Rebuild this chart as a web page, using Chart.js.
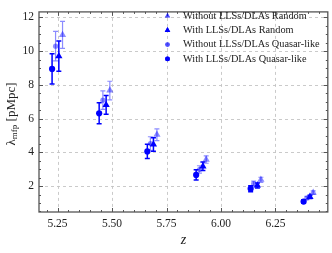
<!DOCTYPE html>
<html><head><meta charset="utf-8">
<script src="https://cdn.jsdelivr.net/npm/chart.js@4"></script>
<style>html,body{margin:0;padding:0;background:#fff;overflow:hidden}</style>
</head><body>
<canvas id="c" width="332" height="253"></canvas>
<script>
// ---- data ----
const seriesLabels = ["Without LLSs/DLAs Random","With LLSs/DLAs Random","Without LLSs/DLAs Quasar-like","With LLSs/DLAs Quasar-like"];

const zWithoutRandom = [5.273,5.490,5.706,5.932,6.183,6.423];
const lmfpWithoutRandom = [10.97,7.67,5.05,3.58,2.38,1.62];
const errWithoutRandom = [0.80,0.55,0.35,0.22,0.15,0.10];

const zWithRandom = [5.256,5.473,5.690,5.917,6.167,6.408];
const lmfpWithRandom = [9.71,6.82,4.47,3.18,2.04,1.37];
const errWithRandom = [0.90,0.55,0.40,0.25,0.15,0.10];

const zWithoutQuasar = [5.241,5.458,5.676,5.901,6.150,6.394];
const lmfpWithoutQuasar = [10.30,7.10,4.53,2.99,2.15,1.30];
const errWithoutQuasar = [0.87,0.55,0.40,0.22,0.15,0.10];

const zWithQuasar = [5.225,5.441,5.662,5.886,6.136,6.379];
const lmfpWithQuasar = [8.95,6.32,4.06,2.67,1.85,1.09];
const errWithQuasar = [0.90,0.62,0.42,0.30,0.18,0.10];

const xTicks = [5.25,5.50,5.75,6.00,6.25];
const yTicks = [2,4,6,8,10,12];

const LIGHT = 'rgba(0,0,255,0.45)';
const DARK = 'rgba(0,0,255,1)';
const SERIF = '"Liberation Serif","DejaVu Serif",serif';

function pts(z, v){ return z.map((x,i)=>({x:x, y:v[i]})); }

const datasets = [
  {label:seriesLabels[0], data:pts(zWithoutRandom,lmfpWithoutRandom), err:errWithoutRandom, pointStyle:'triangle', pointRadius:4.2, backgroundColor:LIGHT, borderColor:LIGHT, borderWidth:0, light:true},
  {label:seriesLabels[1], data:pts(zWithRandom,lmfpWithRandom), err:errWithRandom, pointStyle:'triangle', pointRadius:4.2, backgroundColor:DARK, borderColor:DARK, borderWidth:0, light:false},
  {label:seriesLabels[2], data:pts(zWithoutQuasar,lmfpWithoutQuasar), err:errWithoutQuasar, pointStyle:'circle', pointRadius:2.6, backgroundColor:LIGHT, borderColor:LIGHT, borderWidth:0, light:true},
  {label:seriesLabels[3], data:pts(zWithQuasar,lmfpWithQuasar), err:errWithQuasar, pointStyle:'circle', pointRadius:3.1, backgroundColor:DARK, borderColor:DARK, borderWidth:0, light:false}
];

const decor = {
  id:'decor',
  beforeDatasetsDraw(chart){
    const {ctx, chartArea:a, scales:{x, y}} = chart;
    ctx.save();
    // dashed grid
    ctx.strokeStyle = '#c4c4c4'; ctx.lineWidth = 0.9; ctx.setLineDash([3,3]);
    xTicks.forEach(v=>{ const px = Math.round(x.getPixelForValue(v))+0.5; ctx.beginPath(); ctx.moveTo(px,a.top); ctx.lineTo(px,a.bottom); ctx.stroke(); });
    yTicks.forEach(v=>{ const py = Math.round(y.getPixelForValue(v))+0.5; ctx.beginPath(); ctx.moveTo(a.left,py); ctx.lineTo(a.right,py); ctx.stroke(); });
    ctx.setLineDash([]);
    // error bars
    chart.data.datasets.forEach(ds=>{
      ctx.strokeStyle = ds.borderColor; ctx.lineWidth = ds.light ? 1.2 : 1.5;
      ds.data.forEach((p,i)=>{
        const px = x.getPixelForValue(p.x);
        const yt = y.getPixelForValue(p.y + ds.err[i]);
        const yb = y.getPixelForValue(p.y - ds.err[i]);
        ctx.beginPath();
        ctx.moveTo(px,yt); ctx.lineTo(px,yb);
        ctx.moveTo(px-2.5,yt); ctx.lineTo(px+2.5,yt);
        ctx.moveTo(px-2.5,yb); ctx.lineTo(px+2.5,yb);
        ctx.stroke();
      });
    });
    ctx.restore();
  },
  afterDraw(chart){
    const {ctx, chartArea:a, scales:{x, y}} = chart;
    ctx.save();
    // ticks (inside, all four sides)
    ctx.strokeStyle = '#555'; ctx.lineWidth = 1;
    const tick = (x1,y1,x2,y2)=>{ ctx.beginPath(); ctx.moveTo(x1,y1); ctx.lineTo(x2,y2); ctx.stroke(); };
    for (let v = 5.20; v < x.max; v += 0.05) {
      const vv = Math.round(v*100)/100;
      if (vv < x.min) continue;
      const major = xTicks.some(t=>Math.abs(t-vv)<1e-6);
      const L = major ? 4 : 2;
      const px = Math.round(x.getPixelForValue(vv))+0.5;
      tick(px,a.bottom,px,a.bottom-L); tick(px,a.top,px,a.top+L);
    }
    for (let v = 0.5; v < y.max; v += 0.5) {
      const major = yTicks.includes(v);
      const L = major ? 4 : 2;
      const py = Math.round(y.getPixelForValue(v))+0.5;
      tick(a.left,py,a.left+L,py); tick(a.right,py,a.right-L,py);
    }
    // frame
    ctx.strokeStyle = '#555'; ctx.lineWidth = 1.3;
    ctx.strokeRect(a.left, a.top, a.right-a.left, a.bottom-a.top);
    // legend
    const lx = 167.5, tx = 183, ly0 = 16, dy = 14.3;
    ctx.font = '10.3px ' + SERIF; ctx.textBaseline = 'middle'; ctx.textAlign = 'left'; ctx.fillStyle = '#222';
    chart.data.datasets.forEach((ds,i)=>{
      const ly = ly0 + i*dy;
      ctx.fillStyle = ds.backgroundColor;
      Chart.helpers.drawPoint(ctx, {pointStyle: ds.pointStyle, radius: ds.pointStyle==='triangle'?3.2:2.4, borderWidth:0}, lx, ly);
      ctx.fill();
      ctx.fillStyle = '#222';
      ctx.fillText(ds.label, tx, ly);
    });
    // x title
    ctx.font = 'italic 14px ' + SERIF; ctx.textAlign = 'center'; ctx.fillStyle = '#222';
    ctx.fillText('z', (a.left+a.right)/2, 240);
    // y title with subscript
    ctx.translate(12, (a.top+a.bottom)/2 + 2);
    ctx.rotate(-Math.PI/2);
    ctx.textAlign = 'left';
    const f1 = '13px ' + SERIF, f2 = '9px ' + SERIF;
    ctx.font = f1; const wL = ctx.measureText('λ').width;
    ctx.font = f2; const wS = ctx.measureText('mfp').width;
    ctx.font = f1; const wR = ctx.measureText(' [pMpc]').width;
    let sx = -(wL+wS+wR)/2;
    ctx.font = f1; ctx.fillText('λ', sx, 0); sx += wL;
    ctx.font = f2; ctx.fillText('mfp', sx, 3); sx += wS;
    ctx.font = f1; ctx.fillText(' [pMpc]', sx, 0);
    ctx.restore();
  }
};

new Chart(document.getElementById('c'), {
  type:'scatter',
  data:{datasets},
  options:{
    responsive:false, animation:false, devicePixelRatio:1,
    layout:{padding:{top:3,right:3,left:0,bottom:0}},
    plugins:{legend:{display:false}, tooltip:{enabled:false}},
    scales:{
      x:{type:'linear', min:5.165, max:6.49,
        grid:{display:false, drawTicks:false}, border:{display:false},
        afterBuildTicks:s=>{ s.ticks = xTicks.map(v=>({value:v})); },
        afterFit:s=>{ s.height = 41; },
        ticks:{padding:5, maxRotation:0, autoSkip:false, color:'#222', font:{family:SERIF, size:11.5}, callback:v=>Number(v).toFixed(2)}
      },
      y:{type:'linear', min:0.47, max:12.33,
        grid:{display:false, drawTicks:false}, border:{display:false},
        afterBuildTicks:s=>{ s.ticks = yTicks.map(v=>({value:v})); },
        afterFit:s=>{ s.width = 39; },
        ticks:{padding:5, autoSkip:false, color:'#222', font:{family:SERIF, size:11.5}, callback:v=>String(v)}
      }
    }
  },
  plugins:[decor]
});
</script>
</body></html>
